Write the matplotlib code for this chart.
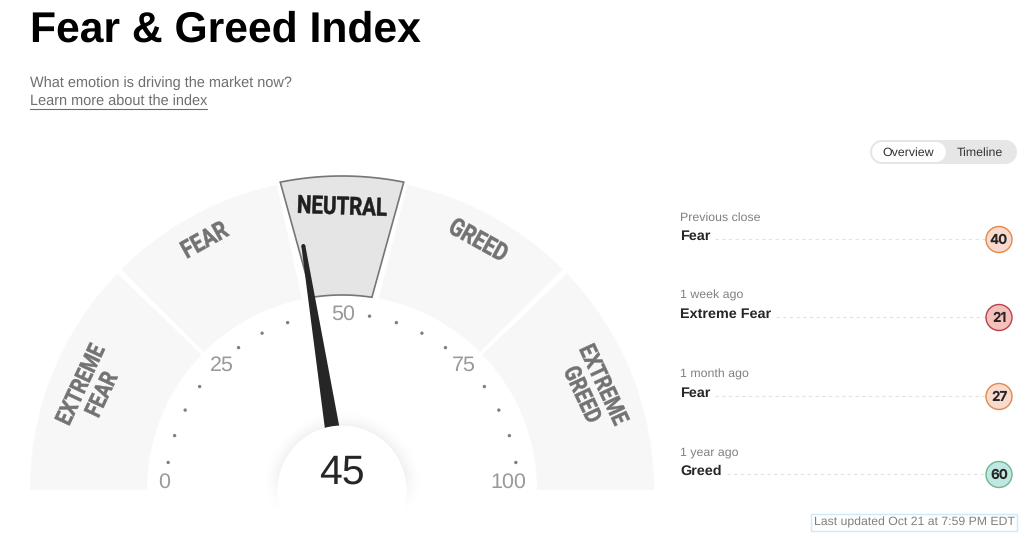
import numpy as np
import matplotlib
matplotlib.use("Agg")
import matplotlib.pyplot as plt
from matplotlib.patches import Polygon, Circle, Rectangle
from matplotlib.patheffects import AbstractPathEffect
from matplotlib.transforms import Affine2D

plt.rcParams["text.hinting"] = "no_hinting"
plt.rcParams["text.hinting_factor"] = 8

# ---- data ----
gauge_value = 45
zone_names = ["EXTREME\nFEAR", "FEAR", "NEUTRAL", "GREED", "EXTREME\nGREED"]
zone_start_outer = [0, 25, 43.7, 56.7, 75.6]
zone_end_outer = [24.4, 43.3, 56.3, 75, 100]
zone_start_inner = [0, 25, 45.1, 56.05, 75.6]
zone_end_inner = [24.4, 43.4, 54.9, 75, 100]
active_zone = 2
scale_labels = [0, 25, 50, 75, 100]
scale_dots = [5, 10, 15, 20, 30, 35, 40, 45, 55, 60, 65, 70, 80, 85, 90, 95]
history_when = ["Previous close", "1 week ago", "1 month ago", "1 year ago"]
history_rating = ["Fear", "Extreme Fear", "Fear", "Greed"]
history_value = [40, 21, 27, 60]
toggle_labels = ["Overview", "Timeline"]

# ---- layout / style ----
W, H = 1030, 549
CX, CY = 342, 490
R_OUT, R_IN = 312, 195
COND = "Roboto"
SANS = "Liberation Sans"
px = 0.72  # px to pt at dpi 100


class Condense(AbstractPathEffect):
    """Narrow and embolden a rotated text along its baseline, about its anchor."""

    def __init__(self, cx, cy, rot, sx, stroke):
        self.stroke = stroke
        self.m = (Affine2D().translate(-cx, -cy).rotate_deg(-rot).scale(sx, 1)
                  .rotate_deg(rot).translate(cx, cy))

    def draw_path(self, renderer, gc, tpath, affine, rgbFace=None):
        gc0 = renderer.new_gc()
        gc0.copy_properties(gc)
        gc0.set_linewidth(self.stroke)
        gc0.set_foreground(rgbFace)
        renderer.draw_path(gc0, tpath, affine + self.m, rgbFace)
        gc0.restore()


def pt(v, r):
    a = np.deg2rad(180 * (1 - np.asarray(v, dtype=float) / 100))
    return CX + r * np.cos(a), CY - r * np.sin(a)


def zone_poly(so, eo, si, ei, ro, ri):
    xo, yo = pt(np.linspace(so, eo, 60), ro)
    xi, yi = pt(np.linspace(ei, si, 60), ri)
    return np.column_stack([np.r_[xo, xi], np.r_[yo, yi]])


fig = plt.figure(figsize=(W / 100, H / 100), dpi=100, facecolor="white")
ax = fig.add_axes([0, 0, 1, 1])
ax.set_xlim(0, W)
ax.set_ylim(H, 0)
ax.axis("off")

# header
ax.text(30, 30, "Fear & Greed Index", fontsize=42.6 * px, fontweight="bold", family=SANS,
        color="black", va="center", ha="left")
ax.text(30, 83, "What emotion is driving the market now?", fontsize=14.5 * px, family=SANS,
        color="#6e6e6e", va="center")
ax.text(30, 102, "Learn more about the index", fontsize=14.5 * px, family=SANS,
        color="#6e6e6e", va="center")
ax.plot([30, 207], [108.5, 108.5], color="#6e6e6e", lw=0.8)

# gauge zones
zone_text_pos = [(92, 390), (205, 241), (342, 207.5), (478, 241), (592, 390)]
zone_text_rot = [65, 29, -2, -29, -65]
zone_text_size = [23.5, 25, 25, 25, 23.5]
for i, name in enumerate(zone_names):
    active = i == active_zone
    poly = zone_poly(zone_start_outer[i], zone_end_outer[i], zone_start_inner[i], zone_end_inner[i],
                     R_OUT + (2 if active else 0), R_IN)
    ax.add_patch(Polygon(poly, closed=True, fc="#e5e5e5" if active else "#f7f7f7",
                         ec="#767676" if active else "none", lw=1.2, zorder=2))
    dx, dy = ax.transData.transform(zone_text_pos[i])
    t = ax.text(*zone_text_pos[i], name, rotation=zone_text_rot[i], rotation_mode="anchor",
                ha="center", va="center", family=COND, fontweight="bold",
                fontsize=zone_text_size[i] * px,
                linespacing=1.08, color="#1f1f1f" if active else "#737373", zorder=3)
    t.set_path_effects([Condense(dx, dy, zone_text_rot[i], 0.82, 0.35)])

# scale
for v in scale_dots:
    x, y = pt(v, 176)
    ax.add_patch(Circle((x, y), 1.7, fc="#808080", ec="none", zorder=3))
for v in scale_labels:
    x, y = pt(v, 176)
    if v == 0:
        x, y = x - 2, y - 8
    if v == 100:
        x, y = x - 10, y - 8
    if v == 25:
        x, y = x + 4, y
    if v == 75:
        x, y = x - 3, y
    if v == 50:
        x, y = x + 1, y + 0.5
    ax.text(x, y, str(v), fontsize=21.5 * px, family=SANS, color="#999999",
            ha="center", va="center", zorder=3)

# hub shadow: radial falloff that fades out toward the bottom
gx, gy = np.meshgrid(np.arange(CX - 90, CX + 91), np.arange(CY - 90, CY + 40))
rr = np.hypot(gx - CX, gy - CY)
alpha = 0.06 * np.clip((84 - rr) / 20, 0, 1) ** 2 * np.clip((512 - gy) / 40, 0, 1)
rgba = np.zeros(gx.shape + (4,))
rgba[..., 3] = alpha
ax.imshow(rgba, extent=(CX - 90, CX + 91, CY + 40, CY - 90), aspect="auto",
          interpolation="bilinear", zorder=3.5)
ax.set_xlim(0, W)
ax.set_ylim(H, 0)

# needle
a = np.deg2rad(180 * (1 - gauge_value / 100))
u = np.array([np.cos(a), -np.sin(a)])
n = np.array([-u[1], u[0]])
c = np.array([CX, CY], dtype=float)
base, tip = c + u * 55, c + u * 247
ax.add_patch(Polygon([base + n * 7.5, tip + n * 2, tip - n * 2, base - n * 7.5], closed=True,
                     fc="#262626", ec="none", zorder=4))
ax.add_patch(Circle(tip, 2, fc="#262626", ec="none", zorder=4))

# hub
ax.add_patch(Circle((CX, CY), 64.5, fc="white", ec="none", zorder=5))
ax.text(CX, 473, str(gauge_value), fontsize=41 * px, family=SANS, color="#262626",
        ha="center", va="center", zorder=6)

# toggle
ax.add_patch(Rectangle((882, 140), 123, 24, fc="#e6e6e6", ec="none", zorder=1))
ax.add_patch(Circle((882, 152), 12, fc="#e6e6e6", ec="none", zorder=1))
ax.add_patch(Circle((1005, 152), 12, fc="#e6e6e6", ec="none", zorder=1))
ax.add_patch(Rectangle((882, 142), 54, 20, fc="white", ec="none", zorder=2))
ax.add_patch(Circle((882, 152), 10, fc="white", ec="none", zorder=2))
ax.add_patch(Circle((936, 152), 10, fc="white", ec="none", zorder=2))
for lab, x in zip(toggle_labels, [908.5, 980]):
    ax.text(x, 152.5, lab, fontsize=12.4 * px, family=SANS, color="#333333",
            ha="center", va="center", zorder=3)


# history rows
def colors(v):
    if v <= 25:
        return "#f6c0ba", "#b8404f"
    if v < 45:
        return "#f9dacd", "#de8a4b"
    return "#bfe8e3", "#70b68c"


row_top = [217, 295, 374, 452]
for y, when, rating, v in zip(row_top, history_when, history_rating, history_value):
    ax.text(680, y + 0.5, when, fontsize=12.4 * px, family=SANS, color="#808080", va="center")
    t = ax.text(680, y + 19, rating, fontsize=14.4 * px, family=SANS, fontweight="bold",
                color="#262626", va="center")
    fig.canvas.draw()
    x_end = ax.transData.inverted().transform(t.get_window_extent().get_points())[1, 0]
    ax.plot([x_end + 5, 986], [y + 22, y + 22], color="#e2e2e2", lw=0.8, ls=(0, (3, 3)))
    fc, ec = colors(v)
    ax.add_patch(Circle((999, y + 22.5), 13, fc=fc, ec=ec, lw=1.0, zorder=3))
    ax.text(999, y + 23, str(v), fontsize=13.5 * px, family="Inter", fontweight="bold",
            color="#262626", ha="center", va="center", zorder=4)

# last updated
ax.add_patch(Rectangle((810.5, 513.5), 206, 17, fc="white", ec="#cdeafa", lw=1))
ax.text(813.5, 522, "Last updated Oct 21 at 7:59 PM EDT", fontsize=12.3 * px, family=SANS,
        color="#808080", va="center")

fig.savefig("out.png", dpi=100, facecolor="white")
